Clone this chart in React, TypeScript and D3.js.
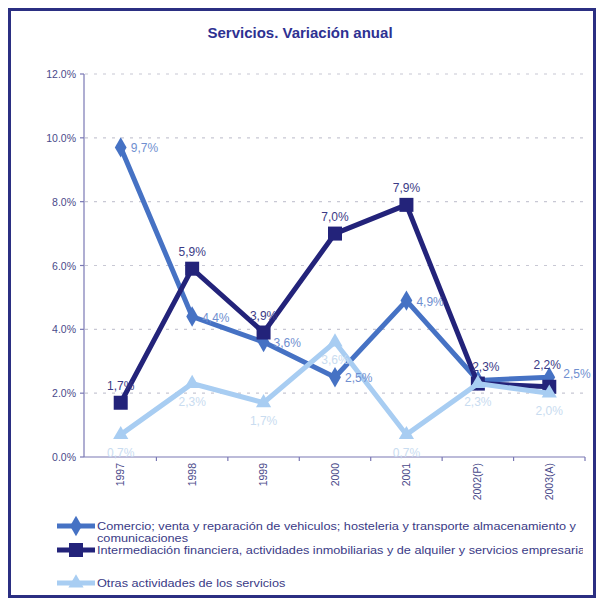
import React from "react";
import * as d3 from "d3";

const categories = ["1997", "1998", "1999", "2000", "2001", "2002(P)", "2003(A)"];
const comercio = [9.7, 4.4, 3.6, 2.5, 4.9, 2.4, 2.5];
const intermediacion = [1.7, 5.9, 3.9, 7.0, 7.9, 2.3, 2.2];
const otras = [0.7, 2.3, 1.7, 3.6, 0.7, 2.3, 2.0];
const yTicks = [0, 2, 4, 6, 8, 10, 12];
const seriesNames = [
  "Comercio; venta y reparación de vehiculos; hosteleria y transporte almacenamiento y",
  "Intermediación financiera, actividades inmobiliarias y de alquiler y servicios empresarial",
  "Otras actividades de los servicios",
];
const title = "Servicios. Variación anual";

const W = 601, H = 605;
const FONT = "'Liberation Sans', Arial, sans-serif";

const fmt = (v: number) => v.toFixed(1).replace(".", ",") + "%";

export default function App() {
  const x = d3.scaleBand<string>().domain(categories).range([85, 585]);
  const y = d3.scaleLinear().domain([0, 12]).range([457, 74]);
  const cx = (c: string) => (x(c) as number) + x.bandwidth() / 2;
  const line = d3.line<number>().x((_, i) => cx(categories[i])).y((d) => y(d));

  const series = [
    { name: seriesNames[0], data: comercio, color: "#4672c4", label: "#6f8fd0", shape: "diamond", pos: "right" },
    { name: seriesNames[1], data: intermediacion, color: "#23237a", label: "#3b3b86", shape: "square", pos: "above" },
    { name: seriesNames[2], data: otras, color: "#a8cdf2", label: "#c9dcf0", shape: "triangle", pos: "below" },
  ];

  const marker = (shape: string, px: number, py: number, color: string, k: string) => {
    if (shape === "diamond") {
      const s = d3.symbol(d3.symbolDiamond, 120)();
      return <path key={k} d={s as string} transform={`translate(${px},${py})`} fill={color} />;
    }
    if (shape === "square") {
      return <rect key={k} x={px - 7} y={py - 7} width={14} height={14} fill={color} />;
    }
    const s = d3.symbol(d3.symbolTriangle, 100)();
    return <path key={k} d={s as string} transform={`translate(${px},${py})`} fill={color} />;
  };

  const legendY = [526, 550, 583];

  return (
    <svg width={W} height={H} style={{ position: "absolute", left: 0, top: 0, background: "#fff" }}>
      <defs>
        <clipPath id="legclip">
          <rect x={0} y={0} width={583} height={H} />
        </clipPath>
      </defs>
      <rect x={0} y={0} width={W} height={H} fill="#fff" />
      <rect x={9.5} y={9.5} width={585} height={587} fill="none" stroke="#2b2f82" strokeWidth={3} />
      <text x={300} y={38} textAnchor="middle" fontFamily={FONT} fontWeight="bold" fontSize={15} fill="#2e3192">
        {title}
      </text>

      {/* grid */}
      {yTicks.filter((t) => t > 0).map((t) => (
        <line key={t} x1={85} x2={588} y1={y(t)} y2={y(t)} stroke="#c8c8d4" strokeWidth={1.2} strokeDasharray="3,6" />
      ))}
      {/* y axis */}
      <line x1={84} x2={84} y1={y(12)} y2={y(0)} stroke="#7a78b4" strokeWidth={1.2} />
      {yTicks.map((t) => (
        <g key={t}>
          <line x1={80} x2={84} y1={y(t)} y2={y(t)} stroke="#7a78b4" strokeWidth={1.2} />
          <text x={76} y={y(t) + 4} textAnchor="end" fontFamily={FONT} fontSize={10.5} fill="#4a4a8a">
            {t.toFixed(1) + "%"}
          </text>
        </g>
      ))}
      {/* x axis */}
      <line x1={84} x2={585} y1={y(0)} y2={y(0)} stroke="#7a78b4" strokeWidth={1.2} />
      {categories.map((c, i) => (
        <line key={"t" + i} x1={(x(c) as number) + x.bandwidth()} x2={(x(c) as number) + x.bandwidth()} y1={y(0)} y2={y(0) + 4} stroke="#7a78b4" strokeWidth={1.2} />
      ))}
      {categories.map((c) => (
        <text key={c} transform={`translate(${cx(c) + 3.5},${y(0) + 6}) rotate(-90)`} textAnchor="end" fontFamily={FONT} fontSize={10.5} fill="#4a4a8a">
          {c}
        </text>
      ))}

      {/* series */}
      {series.map((s, si) => (
        <g key={si}>
          <path d={line(s.data) as string} fill="none" stroke={s.color} strokeWidth={5} strokeLinejoin="miter" />
          {s.data.map((v, i) => marker(s.shape, cx(categories[i]), y(v), s.color, si + "-" + i))}
        </g>
      ))}
      {series.map((s, si) =>
        s.data.map((v, i) => {
          if (si === 0 && i === 5) return null;
          const px = cx(categories[i]);
          const py = y(v);
          let tx = px, ty = py, anchor = "middle";
          if (s.pos === "right") { tx = px + 10; ty = py + 5; anchor = "start"; }
          else if (s.pos === "above") { ty = py - 13; }
          else { ty = py + 22; }
          if (si === 1 && i === 5) { tx = px + 8; }
          if (si === 1 && i === 6) { tx = px - 2; ty = py - 18; }
          if (si === 0 && i === 6) { tx = px + 14; ty = py + 1; }
          return (
            <text key={"l" + si + i} x={tx} y={ty} textAnchor={anchor} fontFamily={FONT} fontSize={12} fill={s.label}>
              {fmt(v)}
            </text>
          );
        })
      )}

      {/* legend */}
      <g clipPath="url(#legclip)">
        {series.map((s, si) => (
          <g key={"lg" + si}>
            <line x1={57} x2={95} y1={legendY[si]} y2={legendY[si]} stroke={s.color} strokeWidth={5} />
            {marker(s.shape, 76, legendY[si], s.color, "lm" + si)}
            <text transform={`translate(97,${legendY[si] + 4}) scale(1.21,1)`} fontFamily={FONT} fontSize={10.5} fill="#3a3a86">
              {s.name}
            </text>
          </g>
        ))}
        <text transform={`translate(97,${legendY[0] + 16}) scale(1.21,1)`} fontFamily={FONT} fontSize={10.5} fill="#3a3a86">comunicaciones</text>
      </g>
    </svg>
  );
}
